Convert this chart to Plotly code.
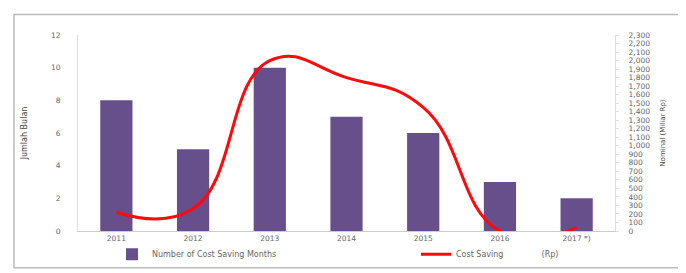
import plotly.graph_objects as go

years = ["2011", "2012", "2013", "2014", "2015", "2016", "2017 *)"]
months = [8, 5, 10, 7, 6, 3, 2]
saving = [220, 260, 2000, 1800, 1450, 0, 40]

left_ticks = [0, 2, 4, 6, 8, 10, 12]
right_ticks = list(range(0, 2301, 100))

fig = go.Figure()
fig.add_trace(go.Bar(
    x=years, y=months, name="Number of Cost Saving Months",
    marker=dict(color="#674f8c", line=dict(width=0)), width=0.42,
    legend="legend",
))
fig.add_trace(go.Scatter(
    x=years, y=saving, name="Cost Saving\u00a0\u00a0\u00a0\u00a0\u00a0\u00a0\u00a0\u00a0\u00a0\u00a0\u00a0\u00a0\u00a0\u00a0\u00a0(Rp)",
    mode="lines", line=dict(color="#ff0a0a", width=3, shape="spline", smoothing=1.3),
    yaxis="y2", cliponaxis=True, legend="legend2",
))

tickfont = dict(family="DejaVu Sans", size=7.5, color="#666666")
legfont = dict(family="DejaVu Sans", size=8, color="#666666")
fig.update_layout(
    width=686, height=273,
    margin=dict(l=70, r=79, t=27, b=44),
    paper_bgcolor="white", plot_bgcolor="white",
    showlegend=True,
    xaxis=dict(
        showline=True, linecolor="#cccccc", linewidth=1, ticks="", tickfont=tickfont,
        showgrid=False, zeroline=False,
    ),
    yaxis=dict(
        range=[0, 12], tickvals=left_ticks, showgrid=False, zeroline=False,
        showline=True, linecolor="#dddddd", linewidth=1, tickfont=tickfont,
        ticklabelstandoff=15,
        title=dict(text="Jumlah Bulan", font=dict(family="DejaVu Sans", size=8, color="#444444"), standoff=22),
    ),
    yaxis2=dict(
        range=[0, 2300], tickvals=right_ticks, tickformat=",", overlaying="y", side="right",
        showgrid=False, zeroline=False, showline=True, linecolor="#dddddd", linewidth=1,
        ticks="outside", ticklen=3, tickcolor="#dddddd", tickfont=tickfont,
        ticklabelstandoff=8,
        title=dict(text="Nominal (Miliar Rp)", font=dict(family="DejaVu Sans", size=7, color="#444444"), standoff=10),
    ),
    legend=dict(
        orientation="h", x=(104 - 70) / 537, y=-24 / 202, xanchor="left", yanchor="middle",
        font=legfont, bgcolor="rgba(0,0,0,0)",
    ),
    legend2=dict(
        orientation="h", x=(408 - 70) / 537, y=-24 / 202, xanchor="left", yanchor="middle",
        font=legfont, bgcolor="rgba(0,0,0,0)",
    ),
    shapes=[dict(
        type="rect", xref="paper", yref="paper",
        x0=-64 / 537, x1=(686 - 70 - 2) / 537, y0=-(273 - 229 - 6) / 202, y1=(229 - 6) / 202,
        line=dict(color="#bbbbbb", width=1.5), fillcolor="rgba(0,0,0,0)", layer="below",
    )],
)

fig.write_html("out.html")
